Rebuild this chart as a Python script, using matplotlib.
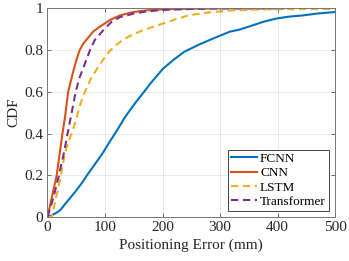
import matplotlib
matplotlib.use("Agg")
import matplotlib.pyplot as plt

# positioning error (mm) vs CDF
fcnn_x = [0, 7, 14, 22, 30, 48, 59, 70, 83, 97, 108, 122, 134, 143, 155, 168, 179, 201, 220,
          238, 265, 288, 317, 334, 352, 375, 398, 420, 444, 470, 500]
fcnn_y = [0, 0.008, 0.018, 0.032, 0.06, 0.12, 0.16, 0.205, 0.255, 0.31, 0.36, 0.42, 0.475,
          0.51, 0.555, 0.6, 0.64, 0.711, 0.755, 0.792, 0.828, 0.855, 0.888, 0.898, 0.914,
          0.935, 0.951, 0.96, 0.966, 0.975, 0.982]

cnn_x = [0, 8, 16, 21, 26, 30, 36, 45, 50, 56, 62, 68, 74, 80, 91, 100, 108, 126, 149, 172,
         200, 250, 300, 392]
cnn_y = [0, 0.1, 0.2, 0.3, 0.4, 0.47, 0.6, 0.7, 0.75, 0.8, 0.83, 0.85, 0.87, 0.89, 0.912,
         0.928, 0.943, 0.966, 0.982, 0.99, 0.995, 0.998, 1.0, 1.0]

lstm_x = [0, 7, 14, 22, 30, 36, 42, 50, 57, 65, 75, 86, 97, 108, 120, 130, 145, 166, 201,
          220, 245, 280, 320, 380, 440, 500]
lstm_y = [0, 0.0, 0.08, 0.18, 0.3, 0.36, 0.4, 0.47, 0.54, 0.6, 0.66, 0.71, 0.755, 0.795,
          0.825, 0.847, 0.87, 0.895, 0.927, 0.945, 0.966, 0.98, 0.99, 0.995, 0.996, 0.997]

trans_x = [0, 10, 19, 28, 35, 42, 49, 56, 63, 74, 82, 97, 111, 126, 138, 149, 172, 200,
           240, 300, 360, 413]
trans_y = [0, 0.09, 0.19, 0.3, 0.4, 0.5, 0.6, 0.67, 0.72, 0.8, 0.847, 0.895, 0.934, 0.958,
           0.966, 0.974, 0.985, 0.992, 0.996, 0.999, 1.0, 1.0]

plt.rcParams['font.family'] = ['Liberation Serif', 'DejaVu Serif']
plt.rcParams['font.size'] = 11

fig = plt.figure(figsize=(3.49, 2.61), dpi=100)
ax = fig.add_axes([0.1361, 0.1686, 0.8238, 0.7996])

ax.plot(fcnn_x, fcnn_y, color='#0072BD', lw=1.5, label='FCNN')
ax.plot(cnn_x, cnn_y, color='#D95319', lw=1.5, label='CNN')
ax.plot(lstm_x, lstm_y, color='#EDB120', lw=1.5, ls=(0, (3.5, 2.2)), label='LSTM')
ax.plot(trans_x, trans_y, color='#7E2F8E', lw=1.5, ls=(0, (3.5, 2.2)), label='Transformer')

ax.set_xlim(0, 500)
ax.set_ylim(0, 1)
ax.set_xticks([0, 100, 200, 300, 400, 500])
ax.set_yticks([0, 0.2, 0.4, 0.6, 0.8, 1])
ax.set_yticklabels(['0', '0.2', '0.4', '0.6', '0.8', '1'])
ax.grid(True, color='#e6e6e6', lw=0.6)
ax.tick_params(direction='in', length=3, width=0.6, color='#555555', top=True, right=True,
               labelcolor='#262626', pad=3)
for s in ax.spines.values():
    s.set_color('#777777')
    s.set_linewidth(0.7)

ax.set_xlabel('Positioning Error (mm)', color='#262626', labelpad=3)
ax.set_ylabel('CDF', color='#262626', labelpad=3)

leg = ax.legend(loc='lower right', fancybox=False, framealpha=1, edgecolor='#262626',
                fontsize=9.5, handlelength=2.0, handletextpad=0.2, labelspacing=0.15,
                borderpad=0.25, borderaxespad=0.45)
leg.get_frame().set_linewidth(0.6)

fig.savefig('out.png', dpi=100)
